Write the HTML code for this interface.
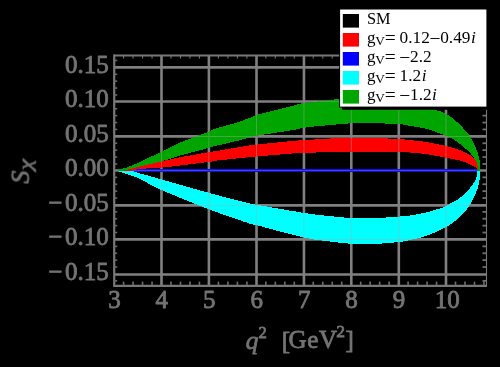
<!DOCTYPE html>
<html><head><meta charset="utf-8"><title>plot</title>
<style>html,body{margin:0;padding:0;background:#000;overflow:hidden}svg{display:block}</style></head>
<body><svg width="500" height="367" viewBox="0 0 500 367">
<defs><filter id="tb" x="-5%" y="-5%" width="110%" height="110%"><feGaussianBlur stdDeviation="0.25"/></filter></defs>
<rect x="0" y="0" width="500" height="367" fill="#000"/>
<g stroke="#808080" stroke-width="2.6"><line x1="161.50" y1="55.5" x2="161.50" y2="285.8"/><line x1="208.90" y1="55.5" x2="208.90" y2="285.8"/><line x1="256.50" y1="55.5" x2="256.50" y2="285.8"/><line x1="303.95" y1="55.5" x2="303.95" y2="285.8"/><line x1="351.30" y1="55.5" x2="351.30" y2="285.8"/><line x1="398.80" y1="55.5" x2="398.80" y2="285.8"/><line x1="446.00" y1="55.5" x2="446.00" y2="285.8"/><line x1="114.2" y1="67.35" x2="486.5" y2="67.35"/><line x1="114.2" y1="101.50" x2="486.5" y2="101.50"/><line x1="114.2" y1="136.40" x2="486.5" y2="136.40"/><line x1="114.2" y1="170.45" x2="486.5" y2="170.45"/><line x1="114.2" y1="205.40" x2="486.5" y2="205.40"/><line x1="114.2" y1="239.40" x2="486.5" y2="239.40"/><line x1="114.2" y1="274.50" x2="486.5" y2="274.50"/></g>
<line x1="121.0" y1="170.45" x2="479.2" y2="170.45" stroke="#0c0cf0" stroke-width="3.1"/>
<line x1="121.0" y1="170.45" x2="479.2" y2="170.45" stroke="#4a4ac4" stroke-width="1"/>
<g shape-rendering="crispEdges">
<path id="bc" d="M119.0,170.3 L119.6,170.3 L120.3,170.3 L121.2,170.3 L122.2,170.3 L123.3,170.3 L124.5,170.3 L125.6,170.4 L126.8,170.4 L128.0,170.4 L129.1,170.5 L130.1,170.6 L131.0,170.7 L131.8,170.8 L132.5,171.0 L133.1,171.1 L133.6,171.2 L134.1,171.4 L134.6,171.6 L135.2,171.8 L135.8,172.0 L136.5,172.3 L137.3,172.5 L138.3,172.9 L139.5,173.2 L140.8,173.6 L142.1,173.9 L143.4,174.3 L144.9,174.7 L146.4,175.2 L148.0,175.6 L149.8,176.1 L151.7,176.7 L153.8,177.2 L156.1,177.9 L158.6,178.6 L161.4,179.4 L164.5,180.3 L167.9,181.3 L171.6,182.3 L175.6,183.5 L179.7,184.7 L184.0,185.9 L188.3,187.1 L192.7,188.3 L197.0,189.6 L201.2,190.7 L205.2,191.9 L209.0,192.9 L212.8,193.9 L216.6,194.9 L220.5,196.0 L224.4,197.0 L228.3,198.0 L232.1,199.0 L235.7,199.9 L239.1,200.8 L242.3,201.6 L245.2,202.3 L247.8,203.0 L250.0,203.5 L251.6,203.9 L252.6,204.2 L253.1,204.3 L253.2,204.3 L253.1,204.3 L252.8,204.2 L252.6,204.2 L252.6,204.1 L252.8,204.1 L253.4,204.2 L254.6,204.4 L256.5,204.7 L259.1,205.2 L262.3,205.7 L266.0,206.4 L270.1,207.1 L274.5,207.9 L279.0,208.7 L283.7,209.5 L288.2,210.3 L292.7,211.0 L296.9,211.7 L300.7,212.4 L304.0,212.9 L306.9,213.3 L309.6,213.7 L312.1,214.1 L314.4,214.4 L316.6,214.7 L318.6,214.9 L320.6,215.1 L322.5,215.3 L324.3,215.5 L326.2,215.7 L328.1,215.9 L330.0,216.1 L331.9,216.3 L333.8,216.5 L335.6,216.7 L337.4,216.9 L339.1,217.0 L340.8,217.2 L342.5,217.3 L344.2,217.5 L345.9,217.6 L347.7,217.7 L349.5,217.8 L351.3,217.9 L353.2,218.0 L355.1,218.0 L357.0,218.1 L359.0,218.1 L361.0,218.1 L363.0,218.2 L365.0,218.2 L367.0,218.1 L369.0,218.1 L371.0,218.1 L373.0,218.0 L375.0,218.0 L377.0,217.9 L379.1,217.8 L381.3,217.7 L383.5,217.6 L385.6,217.5 L387.8,217.4 L389.9,217.2 L392.0,217.1 L393.9,217.0 L395.7,216.8 L397.5,216.7 L399.0,216.6 L400.4,216.5 L401.5,216.4 L402.5,216.4 L403.4,216.3 L404.2,216.2 L405.0,216.2 L405.7,216.1 L406.4,216.0 L407.2,215.9 L408.0,215.8 L408.9,215.7 L410.0,215.5 L411.2,215.3 L412.4,215.1 L413.7,214.9 L415.1,214.7 L416.5,214.4 L417.9,214.2 L419.3,213.9 L420.7,213.6 L422.2,213.3 L423.6,213.0 L425.0,212.7 L426.4,212.4 L427.8,212.0 L429.3,211.6 L430.8,211.2 L432.3,210.8 L433.9,210.3 L435.4,209.9 L436.8,209.4 L438.2,209.0 L439.5,208.5 L440.7,208.1 L441.8,207.8 L442.7,207.5 L443.4,207.3 L443.9,207.1 L444.2,207.0 L444.4,206.9 L444.5,206.9 L444.6,206.9 L444.6,206.8 L444.7,206.7 L444.8,206.6 L445.0,206.5 L445.4,206.2 L446.0,205.9 L446.8,205.5 L447.7,205.0 L448.7,204.5 L449.8,203.9 L451.0,203.2 L452.2,202.6 L453.5,201.9 L454.7,201.2 L455.9,200.5 L457.1,199.8 L458.1,199.1 L459.1,198.5 L460.0,197.9 L460.8,197.2 L461.6,196.6 L462.3,195.9 L463.0,195.3 L463.7,194.7 L464.4,194.0 L465.0,193.4 L465.6,192.8 L466.2,192.2 L466.7,191.6 L467.3,191.0 L467.8,190.5 L468.3,189.9 L468.8,189.4 L469.2,188.9 L469.7,188.4 L470.1,188.0 L470.4,187.5 L470.8,187.0 L471.2,186.6 L471.5,186.1 L471.9,185.7 L472.2,185.2 L472.5,184.7 L472.9,184.3 L473.2,183.9 L473.5,183.4 L473.8,183.0 L474.1,182.5 L474.3,182.1 L474.6,181.7 L474.8,181.3 L475.1,180.8 L475.3,180.4 L475.5,180.0 L475.7,179.6 L475.9,179.1 L476.0,178.7 L476.2,178.3 L476.3,177.9 L476.4,177.5 L476.5,177.0 L476.6,176.6 L476.7,176.2 L476.8,175.8 L476.9,175.4 L477.0,175.0 L477.1,174.6 L477.1,174.2 L477.2,173.7 L477.3,173.3 L477.3,172.9 L477.3,172.4 L477.4,172.0 L477.4,171.6 L477.4,171.3 L477.5,171.0 L477.5,170.7 L477.5,170.5 L480.2,170.5 L480.2,170.8 L480.2,171.1 L480.2,171.4 L480.1,171.9 L480.1,172.3 L480.1,172.8 L480.1,173.3 L480.1,173.8 L480.0,174.4 L480.0,174.9 L479.9,175.5 L479.9,176.0 L479.9,176.5 L479.8,177.1 L479.7,177.7 L479.7,178.3 L479.6,178.9 L479.6,179.5 L479.5,180.2 L479.4,180.8 L479.3,181.4 L479.2,182.1 L479.1,182.7 L479.0,183.3 L478.9,183.9 L478.7,184.5 L478.6,185.1 L478.4,185.7 L478.2,186.3 L478.0,186.9 L477.9,187.6 L477.7,188.2 L477.5,188.8 L477.2,189.4 L477.0,190.0 L476.8,190.6 L476.6,191.2 L476.4,191.8 L476.1,192.4 L475.9,192.9 L475.7,193.5 L475.5,194.1 L475.2,194.7 L474.9,195.3 L474.6,195.9 L474.3,196.6 L474.0,197.3 L473.6,198.0 L473.2,198.8 L472.8,199.6 L472.3,200.5 L471.8,201.4 L471.3,202.3 L470.8,203.2 L470.2,204.1 L469.7,205.1 L469.1,206.0 L468.5,206.9 L467.9,207.8 L467.3,208.6 L466.7,209.4 L466.0,210.3 L465.3,211.1 L464.5,211.9 L463.8,212.7 L463.1,213.6 L462.3,214.3 L461.6,215.1 L460.9,215.8 L460.2,216.4 L459.6,217.1 L459.1,217.6 L458.6,218.1 L458.3,218.5 L457.9,218.8 L457.7,219.1 L457.4,219.3 L457.2,219.5 L457.0,219.7 L456.7,219.9 L456.4,220.1 L456.1,220.3 L455.7,220.6 L455.2,221.0 L454.6,221.4 L454.0,221.9 L453.3,222.4 L452.5,222.9 L451.7,223.4 L450.9,223.9 L450.1,224.5 L449.2,225.0 L448.4,225.6 L447.6,226.1 L446.8,226.5 L446.0,227.0 L445.2,227.4 L444.5,227.8 L443.7,228.2 L442.9,228.6 L442.2,229.0 L441.4,229.4 L440.7,229.7 L439.9,230.1 L439.2,230.4 L438.5,230.8 L437.8,231.1 L437.1,231.4 L436.5,231.7 L435.8,232.0 L435.3,232.2 L434.7,232.5 L434.1,232.7 L433.6,233.0 L433.1,233.2 L432.5,233.4 L431.9,233.7 L431.3,233.9 L430.7,234.1 L430.0,234.4 L429.3,234.7 L428.5,234.9 L427.8,235.2 L427.0,235.5 L426.2,235.8 L425.4,236.0 L424.5,236.3 L423.7,236.6 L422.8,236.9 L422.0,237.1 L421.1,237.4 L420.3,237.6 L419.5,237.8 L418.6,238.1 L417.8,238.3 L416.9,238.5 L416.1,238.7 L415.2,238.9 L414.4,239.1 L413.5,239.3 L412.6,239.4 L411.8,239.6 L410.9,239.8 L410.0,240.0 L409.1,240.2 L408.4,240.4 L407.6,240.5 L406.9,240.7 L406.1,240.9 L405.4,241.0 L404.5,241.2 L403.7,241.4 L402.7,241.5 L401.6,241.7 L400.4,241.8 L399.0,242.0 L397.5,242.2 L395.7,242.3 L393.9,242.5 L392.0,242.7 L389.9,242.9 L387.8,243.1 L385.6,243.3 L383.5,243.4 L381.3,243.6 L379.1,243.7 L377.0,243.8 L375.0,243.9 L373.0,244.0 L371.0,244.0 L369.0,244.0 L367.0,244.1 L365.0,244.1 L363.0,244.1 L361.0,244.0 L359.0,244.0 L357.0,243.9 L355.1,243.9 L353.2,243.8 L351.3,243.7 L349.5,243.6 L347.7,243.5 L345.9,243.3 L344.2,243.2 L342.5,243.0 L340.8,242.8 L339.1,242.6 L337.4,242.4 L335.6,242.2 L333.8,242.0 L331.9,241.8 L330.0,241.5 L328.1,241.3 L326.2,241.0 L324.3,240.8 L322.5,240.6 L320.6,240.4 L318.6,240.1 L316.6,239.8 L314.4,239.5 L312.1,239.1 L309.6,238.7 L306.9,238.1 L304.0,237.5 L300.7,236.7 L296.9,235.8 L292.7,234.8 L288.2,233.6 L283.7,232.4 L279.0,231.2 L274.5,230.0 L270.1,228.8 L266.0,227.7 L262.3,226.7 L259.1,225.9 L256.5,225.2 L254.6,224.7 L253.4,224.5 L252.8,224.4 L252.6,224.4 L252.6,224.4 L252.8,224.6 L253.1,224.7 L253.2,224.7 L253.1,224.7 L252.6,224.5 L251.6,224.2 L250.0,223.7 L247.8,222.9 L245.2,222.1 L242.3,221.1 L239.1,220.0 L235.7,218.8 L232.1,217.6 L228.3,216.3 L224.4,214.9 L220.5,213.5 L216.6,212.1 L212.8,210.7 L209.0,209.3 L205.2,207.8 L201.2,206.3 L197.0,204.6 L192.7,202.9 L188.3,201.2 L184.0,199.4 L179.7,197.7 L175.6,195.9 L171.6,194.3 L167.9,192.7 L164.5,191.2 L161.4,189.9 L158.6,188.7 L156.2,187.5 L153.9,186.4 L151.8,185.3 L150.0,184.4 L148.2,183.4 L146.6,182.5 L145.1,181.7 L143.7,180.9 L142.3,180.2 L140.9,179.5 L139.5,178.8 L138.1,178.2 L136.9,177.6 L135.7,177.1 L134.6,176.7 L133.5,176.3 L132.5,175.9 L131.6,175.6 L130.7,175.3 L129.8,175.0 L129.0,174.8 L128.1,174.5 L127.3,174.2 L126.5,173.9 L125.7,173.7 L124.9,173.4 L124.1,173.2 L123.3,173.0 L122.6,172.8 L122.0,172.6 L121.4,172.4 L120.8,172.3 L120.3,172.1 L119.9,172.0 L119.5,171.9Z" fill="#00ffff"/>
<path id="br" d="M124.0,170.3 L124.3,170.2 L124.7,170.1 L125.2,170.0 L125.8,169.9 L126.3,169.8 L127.0,169.6 L127.6,169.5 L128.3,169.3 L129.0,169.2 L129.7,169.0 L130.3,168.9 L131.0,168.7 L131.6,168.5 L132.2,168.4 L132.7,168.3 L133.2,168.1 L133.8,168.0 L134.3,167.8 L134.9,167.7 L135.6,167.5 L136.4,167.3 L137.3,167.0 L138.3,166.8 L139.5,166.5 L140.9,166.2 L142.4,165.8 L144.1,165.4 L146.0,165.0 L147.9,164.5 L149.9,164.1 L151.9,163.6 L153.9,163.1 L155.9,162.7 L157.8,162.2 L159.7,161.8 L161.4,161.4 L163.0,161.0 L164.4,160.7 L165.8,160.4 L167.1,160.1 L168.4,159.8 L169.7,159.5 L171.0,159.2 L172.4,158.9 L173.8,158.6 L175.4,158.3 L177.1,158.0 L179.0,157.6 L181.1,157.2 L183.5,156.7 L186.1,156.2 L188.9,155.7 L191.7,155.2 L194.5,154.7 L197.4,154.2 L200.1,153.7 L202.7,153.2 L205.0,152.8 L207.1,152.4 L208.8,152.1 L210.1,151.9 L211.1,151.7 L211.8,151.6 L212.3,151.5 L212.6,151.5 L212.8,151.5 L213.0,151.5 L213.3,151.5 L213.6,151.4 L214.1,151.4 L214.9,151.3 L216.0,151.1 L217.4,150.9 L219.0,150.6 L220.8,150.3 L222.7,150.0 L224.7,149.6 L226.9,149.3 L229.0,148.9 L231.1,148.5 L233.3,148.2 L235.3,147.8 L237.2,147.5 L239.0,147.2 L240.7,146.9 L242.4,146.7 L244.0,146.4 L245.6,146.1 L247.2,145.9 L248.8,145.6 L250.3,145.4 L251.7,145.2 L253.0,145.0 L254.3,144.8 L255.5,144.7 L256.6,144.5 L257.5,144.4 L258.1,144.3 L258.6,144.2 L258.9,144.2 L259.2,144.2 L259.4,144.2 L259.7,144.2 L260.1,144.1 L260.7,144.1 L261.5,144.0 L262.6,143.9 L264.0,143.8 L265.9,143.6 L268.2,143.4 L270.8,143.1 L273.7,142.8 L276.8,142.5 L280.0,142.2 L283.1,141.9 L286.2,141.6 L289.1,141.3 L291.8,141.0 L294.1,140.8 L296.0,140.6 L297.5,140.5 L298.5,140.4 L299.3,140.3 L299.8,140.3 L300.2,140.3 L300.4,140.3 L300.7,140.3 L301.0,140.3 L301.4,140.3 L302.0,140.3 L302.9,140.3 L304.1,140.2 L305.6,140.1 L307.4,140.0 L309.4,139.8 L311.6,139.7 L313.9,139.5 L316.2,139.4 L318.6,139.2 L321.0,139.0 L323.4,138.9 L325.7,138.7 L327.9,138.6 L330.0,138.5 L331.9,138.4 L333.8,138.3 L335.6,138.3 L337.4,138.2 L339.1,138.2 L340.8,138.1 L342.5,138.1 L344.2,138.1 L345.9,138.1 L347.7,138.0 L349.5,138.0 L351.3,138.0 L353.2,138.0 L355.1,138.0 L357.1,138.0 L359.0,138.0 L361.0,138.0 L363.0,138.0 L365.0,138.0 L367.0,138.0 L369.0,138.0 L371.0,138.0 L373.0,138.1 L375.0,138.1 L377.0,138.1 L379.1,138.2 L381.2,138.3 L383.4,138.3 L385.5,138.4 L387.6,138.5 L389.7,138.6 L391.7,138.7 L393.6,138.7 L395.5,138.8 L397.2,138.9 L398.7,139.0 L400.1,139.1 L401.2,139.2 L402.3,139.2 L403.2,139.3 L404.0,139.4 L404.8,139.5 L405.6,139.6 L406.3,139.7 L407.1,139.8 L408.0,139.9 L408.9,140.0 L410.0,140.1 L411.2,140.2 L412.4,140.4 L413.7,140.5 L415.1,140.6 L416.5,140.8 L417.9,140.9 L419.3,141.1 L420.8,141.2 L422.2,141.4 L423.6,141.6 L425.0,141.8 L426.4,142.0 L427.8,142.2 L429.3,142.5 L430.8,142.8 L432.3,143.1 L433.9,143.4 L435.4,143.7 L436.8,144.0 L438.2,144.3 L439.5,144.5 L440.7,144.8 L441.8,145.0 L442.7,145.2 L443.4,145.3 L443.9,145.4 L444.2,145.5 L444.4,145.5 L444.5,145.6 L444.6,145.6 L444.6,145.6 L444.7,145.6 L444.8,145.7 L445.0,145.7 L445.4,145.8 L446.0,146.0 L446.8,146.2 L447.7,146.4 L448.7,146.7 L449.8,147.0 L451.0,147.3 L452.2,147.7 L453.5,148.0 L454.7,148.3 L455.9,148.7 L457.1,149.0 L458.1,149.4 L459.1,149.7 L460.0,150.0 L460.8,150.3 L461.6,150.7 L462.3,151.0 L463.0,151.4 L463.7,151.7 L464.4,152.0 L465.0,152.4 L465.6,152.7 L466.2,153.0 L466.7,153.3 L467.3,153.6 L467.8,153.9 L468.3,154.1 L468.8,154.4 L469.2,154.6 L469.7,154.9 L470.1,155.1 L470.4,155.3 L470.8,155.5 L471.2,155.8 L471.5,156.0 L471.9,156.2 L472.2,156.5 L472.5,156.8 L472.9,157.0 L473.2,157.3 L473.5,157.5 L473.8,157.8 L474.0,158.1 L474.3,158.3 L474.6,158.6 L474.8,158.9 L475.0,159.2 L475.3,159.5 L475.5,159.8 L475.7,160.1 L475.9,160.5 L476.1,160.8 L476.3,161.1 L476.5,161.5 L476.6,161.9 L476.8,162.2 L477.0,162.6 L477.1,162.9 L477.2,163.3 L477.4,163.7 L477.5,164.0 L477.6,164.3 L477.7,164.7 L477.8,165.0 L477.9,165.4 L478.0,165.8 L478.1,166.1 L478.1,166.4 L478.2,166.8 L478.2,167.1 L478.3,167.4 L478.4,167.7 L478.4,168.0 L478.4,168.3 L478.5,168.5 L478.5,168.8 L478.5,169.0 L478.5,169.3 L478.6,169.5 L478.6,169.7 L478.6,169.9 L478.6,170.1 L478.6,170.2 L478.6,170.4 L478.6,170.5 L478.0,170.5 L477.9,170.4 L477.9,170.3 L477.8,170.1 L477.7,169.9 L477.6,169.7 L477.5,169.5 L477.4,169.3 L477.3,169.1 L477.1,168.9 L476.9,168.6 L476.7,168.4 L476.5,168.2 L476.2,168.0 L475.9,167.8 L475.6,167.5 L475.3,167.3 L474.9,167.0 L474.6,166.8 L474.2,166.5 L473.8,166.3 L473.3,166.0 L472.9,165.8 L472.5,165.5 L472.0,165.3 L471.5,165.1 L471.0,164.8 L470.5,164.6 L470.0,164.3 L469.5,164.1 L468.9,163.8 L468.4,163.6 L467.8,163.4 L467.3,163.1 L466.7,162.9 L466.1,162.7 L465.6,162.5 L465.1,162.3 L464.6,162.1 L464.1,161.9 L463.7,161.8 L463.2,161.6 L462.8,161.4 L462.3,161.3 L461.8,161.1 L461.2,160.9 L460.6,160.8 L459.9,160.6 L459.1,160.4 L458.2,160.2 L457.2,160.0 L456.1,159.7 L454.9,159.5 L453.6,159.3 L452.4,159.0 L451.1,158.8 L449.9,158.6 L448.7,158.3 L447.7,158.1 L446.8,158.0 L446.0,157.8 L445.4,157.7 L445.0,157.6 L444.8,157.5 L444.7,157.5 L444.6,157.4 L444.6,157.4 L444.5,157.4 L444.4,157.3 L444.2,157.3 L443.9,157.2 L443.4,157.1 L442.7,157.0 L441.8,156.8 L440.7,156.6 L439.5,156.4 L438.2,156.2 L436.8,155.9 L435.4,155.7 L433.9,155.4 L432.3,155.1 L430.8,154.9 L429.3,154.6 L427.8,154.4 L426.4,154.2 L425.0,154.0 L423.6,153.8 L422.2,153.7 L420.8,153.5 L419.3,153.4 L417.9,153.2 L416.5,153.1 L415.1,152.9 L413.7,152.8 L412.4,152.7 L411.2,152.6 L410.0,152.5 L408.9,152.4 L408.0,152.3 L407.1,152.3 L406.3,152.2 L405.6,152.2 L404.8,152.1 L404.0,152.1 L403.2,152.0 L402.3,152.0 L401.2,152.0 L400.1,151.9 L398.7,151.9 L397.2,151.9 L395.5,151.8 L393.6,151.8 L391.7,151.7 L389.7,151.7 L387.6,151.7 L385.5,151.6 L383.4,151.6 L381.2,151.6 L379.1,151.5 L377.0,151.5 L375.0,151.5 L373.0,151.5 L371.0,151.5 L369.0,151.5 L367.0,151.5 L365.0,151.5 L363.0,151.5 L361.0,151.5 L359.0,151.5 L357.1,151.5 L355.1,151.6 L353.2,151.6 L351.3,151.6 L349.5,151.6 L347.7,151.6 L345.9,151.6 L344.2,151.7 L342.5,151.7 L340.8,151.7 L339.1,151.7 L337.4,151.7 L335.6,151.8 L333.8,151.8 L331.9,151.8 L330.0,151.9 L327.9,152.0 L325.7,152.0 L323.4,152.1 L321.0,152.2 L318.6,152.3 L316.2,152.5 L313.8,152.6 L311.5,152.7 L309.3,152.8 L307.3,152.9 L305.6,152.9 L304.0,153.0 L302.8,153.0 L302.0,153.0 L301.5,153.0 L301.2,153.0 L301.0,153.0 L300.8,153.0 L300.6,152.9 L300.3,152.9 L299.8,153.0 L298.9,153.0 L297.7,153.1 L296.0,153.2 L293.7,153.4 L291.0,153.6 L287.8,153.8 L284.4,154.1 L280.7,154.4 L276.9,154.8 L273.1,155.1 L269.3,155.4 L265.7,155.7 L262.3,156.0 L259.2,156.3 L256.6,156.5 L254.4,156.7 L252.5,156.9 L250.8,157.0 L249.3,157.2 L248.0,157.3 L246.8,157.4 L245.6,157.5 L244.5,157.6 L243.3,157.8 L242.0,157.9 L240.6,158.0 L239.0,158.2 L237.2,158.4 L235.3,158.6 L233.3,158.8 L231.1,159.0 L229.0,159.3 L226.9,159.5 L224.7,159.7 L222.7,159.9 L220.8,160.1 L219.0,160.3 L217.4,160.5 L216.0,160.7 L214.9,160.8 L214.1,160.9 L213.6,161.0 L213.3,161.1 L213.0,161.2 L212.8,161.2 L212.6,161.3 L212.3,161.4 L211.8,161.5 L211.1,161.6 L210.1,161.7 L208.8,161.9 L207.1,162.1 L205.0,162.4 L202.7,162.7 L200.1,163.0 L197.4,163.4 L194.5,163.7 L191.7,164.1 L188.9,164.4 L186.1,164.7 L183.5,165.1 L181.1,165.3 L179.0,165.6 L177.1,165.8 L175.4,166.0 L173.8,166.2 L172.4,166.4 L171.0,166.6 L169.7,166.7 L168.4,166.9 L167.1,167.0 L165.8,167.2 L164.4,167.3 L163.0,167.5 L161.4,167.6 L159.7,167.7 L157.8,167.9 L155.9,168.0 L153.9,168.1 L151.9,168.2 L149.9,168.3 L147.9,168.4 L146.0,168.5 L144.1,168.6 L142.4,168.7 L140.9,168.8 L139.5,168.9 L138.3,169.0 L137.3,169.2 L136.4,169.3 L135.6,169.5 L134.9,169.7 L134.3,169.8 L133.8,170.0 L133.2,170.1 L132.7,170.3 L132.2,170.4 L131.6,170.5 L131.0,170.6 L130.3,170.7 L129.7,170.7 L129.0,170.8 L128.3,170.8 L127.6,170.8 L127.0,170.8 L126.3,170.8 L125.8,170.8 L125.2,170.8 L124.7,170.8 L124.3,170.8 L124.0,170.8Z" fill="#ff0000"/>
<path id="bg" d="M119.5,169.3 L119.9,169.2 L120.3,169.1 L120.8,169.0 L121.4,168.9 L122.0,168.7 L122.6,168.6 L123.3,168.4 L124.1,168.2 L124.9,168.0 L125.7,167.7 L126.5,167.5 L127.3,167.2 L128.1,166.9 L129.0,166.6 L129.8,166.3 L130.7,166.0 L131.6,165.6 L132.5,165.2 L133.5,164.8 L134.6,164.4 L135.7,163.9 L136.9,163.4 L138.1,162.8 L139.5,162.2 L141.0,161.5 L142.6,160.7 L144.4,159.9 L146.2,159.0 L148.2,158.1 L150.1,157.2 L152.1,156.2 L154.1,155.3 L156.0,154.3 L157.9,153.4 L159.7,152.5 L161.4,151.7 L163.0,150.9 L164.4,150.2 L165.8,149.5 L167.1,148.8 L168.4,148.1 L169.7,147.5 L171.0,146.8 L172.4,146.1 L173.8,145.4 L175.4,144.7 L177.1,143.9 L179.0,143.1 L181.1,142.2 L183.5,141.3 L186.1,140.2 L188.9,139.2 L191.7,138.1 L194.5,137.0 L197.4,135.9 L200.1,134.9 L202.7,134.0 L205.0,133.1 L207.1,132.3 L208.8,131.6 L210.1,131.1 L211.1,130.6 L211.8,130.3 L212.3,130.1 L212.6,129.9 L212.8,129.8 L213.0,129.6 L213.3,129.5 L213.6,129.3 L214.1,129.1 L214.9,128.9 L216.0,128.5 L217.4,128.1 L219.0,127.6 L220.8,127.1 L222.7,126.5 L224.7,126.0 L226.9,125.4 L229.0,124.8 L231.1,124.2 L233.3,123.6 L235.3,123.0 L237.2,122.4 L239.0,121.8 L240.7,121.2 L242.4,120.6 L244.0,120.0 L245.6,119.4 L247.2,118.8 L248.8,118.2 L250.3,117.6 L251.7,117.0 L253.0,116.5 L254.3,116.0 L255.5,115.5 L256.6,115.1 L257.5,114.8 L258.1,114.6 L258.6,114.4 L258.9,114.3 L259.2,114.2 L259.4,114.1 L259.7,114.1 L260.1,114.0 L260.7,113.8 L261.5,113.6 L262.6,113.4 L264.0,113.0 L265.9,112.5 L268.2,111.9 L270.8,111.2 L273.7,110.5 L276.8,109.7 L280.0,108.9 L283.1,108.1 L286.2,107.4 L289.1,106.6 L291.8,106.0 L294.1,105.4 L296.0,104.9 L297.4,104.5 L298.4,104.3 L299.1,104.1 L299.4,103.9 L299.7,103.8 L299.8,103.8 L300.0,103.7 L300.2,103.6 L300.7,103.6 L301.4,103.5 L302.5,103.3 L304.1,103.1 L306.1,102.8 L308.5,102.5 L311.3,102.2 L314.2,101.8 L317.4,101.4 L320.7,101.0 L324.1,100.6 L327.4,100.2 L330.8,99.8 L334.0,99.5 L337.1,99.2 L340.0,98.9 L342.7,98.7 L345.3,98.4 L347.9,98.2 L350.4,98.1 L352.9,97.9 L355.4,97.7 L357.8,97.6 L360.2,97.5 L362.6,97.4 L365.1,97.3 L367.5,97.3 L370.0,97.3 L372.5,97.3 L375.1,97.4 L377.7,97.4 L380.4,97.5 L383.0,97.7 L385.6,97.8 L388.2,98.0 L390.7,98.1 L393.2,98.3 L395.6,98.5 L397.9,98.8 L400.0,99.0 L402.0,99.2 L404.0,99.5 L405.8,99.8 L407.6,100.1 L409.3,100.4 L410.9,100.7 L412.5,101.0 L414.0,101.4 L415.6,101.7 L417.0,102.1 L418.5,102.6 L420.0,103.0 L421.5,103.5 L422.9,104.0 L424.4,104.6 L425.8,105.3 L427.2,105.9 L428.6,106.6 L429.9,107.2 L431.1,107.8 L432.3,108.4 L433.4,109.0 L434.5,109.5 L435.5,109.9 L436.4,110.2 L437.2,110.5 L437.9,110.7 L438.5,110.9 L439.0,111.1 L439.6,111.2 L440.0,111.3 L440.5,111.4 L441.0,111.6 L441.5,111.7 L442.1,111.9 L442.7,112.2 L443.3,112.5 L444.0,112.8 L444.7,113.2 L445.4,113.5 L446.0,113.9 L446.7,114.3 L447.4,114.7 L448.1,115.1 L448.8,115.6 L449.5,116.0 L450.2,116.5 L450.9,117.0 L451.6,117.5 L452.3,118.0 L452.9,118.6 L453.6,119.1 L454.3,119.7 L455.0,120.2 L455.7,120.8 L456.4,121.5 L457.1,122.1 L457.7,122.7 L458.4,123.3 L459.1,124.0 L459.8,124.7 L460.5,125.4 L461.2,126.1 L462.0,126.9 L462.7,127.6 L463.4,128.4 L464.1,129.2 L464.8,129.9 L465.5,130.7 L466.1,131.4 L466.7,132.1 L467.3,132.8 L467.8,133.5 L468.3,134.1 L468.8,134.7 L469.2,135.3 L469.7,135.9 L470.1,136.5 L470.4,137.1 L470.8,137.7 L471.2,138.3 L471.5,138.8 L471.9,139.4 L472.2,140.0 L472.5,140.6 L472.8,141.2 L473.2,141.8 L473.4,142.3 L473.7,142.9 L474.0,143.5 L474.2,144.1 L474.5,144.6 L474.8,145.2 L475.0,145.8 L475.3,146.4 L475.5,147.0 L475.7,147.6 L476.0,148.2 L476.2,148.9 L476.5,149.5 L476.7,150.1 L477.0,150.8 L477.2,151.4 L477.4,152.0 L477.6,152.7 L477.8,153.3 L478.0,154.0 L478.2,154.6 L478.4,155.2 L478.6,155.9 L478.7,156.5 L478.9,157.1 L479.0,157.8 L479.2,158.4 L479.3,159.1 L479.5,159.7 L479.6,160.3 L479.7,161.0 L479.8,161.6 L479.9,162.3 L480.0,163.0 L480.1,163.7 L480.1,164.5 L480.2,165.3 L480.2,166.1 L480.3,166.9 L480.3,167.6 L480.3,168.4 L480.3,169.0 L480.4,169.6 L480.4,170.1 L480.4,170.5 L478.3,170.5 L478.3,170.2 L478.2,169.8 L478.1,169.4 L478.1,168.9 L478.0,168.4 L477.9,167.8 L477.8,167.2 L477.7,166.7 L477.6,166.1 L477.5,165.6 L477.4,165.1 L477.3,164.6 L477.2,164.2 L477.1,163.8 L476.9,163.4 L476.8,163.1 L476.7,162.7 L476.5,162.4 L476.4,162.1 L476.2,161.7 L476.1,161.4 L475.9,161.0 L475.7,160.7 L475.5,160.3 L475.3,159.9 L475.1,159.5 L474.8,159.1 L474.6,158.7 L474.3,158.3 L474.0,157.9 L473.8,157.4 L473.5,157.0 L473.2,156.6 L472.9,156.1 L472.5,155.7 L472.2,155.3 L471.9,154.9 L471.5,154.5 L471.2,154.1 L470.8,153.7 L470.4,153.3 L470.1,152.9 L469.7,152.5 L469.2,152.0 L468.8,151.6 L468.3,151.1 L467.8,150.7 L467.3,150.2 L466.7,149.7 L466.1,149.1 L465.4,148.6 L464.8,148.0 L464.0,147.4 L463.3,146.8 L462.6,146.2 L461.8,145.6 L461.1,145.0 L460.4,144.4 L459.7,143.9 L459.1,143.4 L458.5,142.9 L457.9,142.5 L457.3,142.0 L456.7,141.6 L456.2,141.2 L455.6,140.8 L455.1,140.4 L454.6,140.0 L454.0,139.6 L453.5,139.3 L452.9,138.9 L452.4,138.6 L451.8,138.3 L451.3,138.0 L450.7,137.7 L450.1,137.5 L449.6,137.2 L449.0,137.0 L448.4,136.8 L447.9,136.6 L447.4,136.4 L446.9,136.2 L446.4,136.0 L446.0,135.8 L445.7,135.6 L445.4,135.5 L445.3,135.4 L445.2,135.4 L445.1,135.3 L445.0,135.3 L444.8,135.2 L444.6,135.1 L444.4,135.0 L444.0,134.9 L443.4,134.7 L442.7,134.4 L441.8,134.1 L440.7,133.7 L439.5,133.3 L438.2,132.8 L436.8,132.3 L435.4,131.8 L433.9,131.2 L432.3,130.7 L430.8,130.2 L429.3,129.7 L427.8,129.3 L426.4,128.9 L425.0,128.6 L423.6,128.2 L422.2,127.9 L420.8,127.6 L419.3,127.4 L417.9,127.1 L416.5,126.9 L415.1,126.6 L413.7,126.4 L412.4,126.2 L411.2,126.0 L410.0,125.8 L408.9,125.6 L408.0,125.4 L407.1,125.3 L406.3,125.1 L405.6,125.0 L404.8,124.8 L404.0,124.7 L403.2,124.6 L402.3,124.4 L401.2,124.3 L400.1,124.2 L398.7,124.1 L397.2,124.0 L395.5,123.9 L393.6,123.8 L391.7,123.7 L389.7,123.6 L387.6,123.5 L385.5,123.5 L383.4,123.4 L381.2,123.3 L379.1,123.3 L377.0,123.2 L375.0,123.2 L373.0,123.2 L370.9,123.1 L368.8,123.1 L366.6,123.1 L364.5,123.1 L362.4,123.1 L360.3,123.2 L358.3,123.2 L356.4,123.2 L354.5,123.2 L352.8,123.3 L351.3,123.3 L349.9,123.3 L348.7,123.4 L347.6,123.5 L346.6,123.5 L345.6,123.6 L344.8,123.7 L344.0,123.8 L343.2,123.9 L342.4,124.0 L341.7,124.0 L340.9,124.1 L340.0,124.2 L339.2,124.3 L338.4,124.3 L337.8,124.4 L337.2,124.4 L336.5,124.4 L335.9,124.5 L335.2,124.5 L334.5,124.6 L333.6,124.7 L332.6,124.8 L331.4,124.9 L330.0,125.0 L328.3,125.2 L326.4,125.3 L324.2,125.6 L321.9,125.8 L319.4,126.0 L316.9,126.3 L314.4,126.5 L312.0,126.8 L309.7,127.0 L307.6,127.3 L305.7,127.5 L304.1,127.7 L302.9,127.9 L302.0,128.0 L301.4,128.2 L301.0,128.3 L300.7,128.4 L300.4,128.5 L300.2,128.6 L299.8,128.8 L299.3,128.9 L298.5,129.1 L297.5,129.3 L296.0,129.6 L294.1,129.9 L291.8,130.3 L289.1,130.7 L286.2,131.1 L283.1,131.6 L280.0,132.1 L276.8,132.6 L273.7,133.0 L270.8,133.5 L268.2,133.9 L265.9,134.2 L264.0,134.5 L262.6,134.7 L261.5,134.9 L260.7,135.0 L260.1,135.0 L259.7,135.1 L259.4,135.1 L259.2,135.1 L258.9,135.2 L258.6,135.2 L258.1,135.3 L257.5,135.5 L256.6,135.7 L255.5,136.0 L254.3,136.3 L253.0,136.6 L251.7,137.0 L250.3,137.4 L248.8,137.8 L247.2,138.2 L245.6,138.7 L244.0,139.1 L242.4,139.5 L240.7,140.0 L239.0,140.4 L237.2,140.8 L235.3,141.3 L233.3,141.8 L231.1,142.3 L229.0,142.8 L226.9,143.3 L224.7,143.8 L222.7,144.2 L220.8,144.7 L219.0,145.1 L217.4,145.5 L216.0,145.8 L214.9,146.1 L214.1,146.3 L213.6,146.4 L213.3,146.5 L213.0,146.6 L212.8,146.6 L212.6,146.7 L212.3,146.8 L211.8,147.0 L211.1,147.2 L210.1,147.4 L208.8,147.8 L207.1,148.3 L205.0,148.8 L202.7,149.5 L200.1,150.1 L197.4,150.9 L194.5,151.6 L191.7,152.4 L188.9,153.2 L186.1,153.9 L183.5,154.6 L181.1,155.3 L179.0,155.9 L177.1,156.5 L175.4,157.0 L173.8,157.5 L172.4,157.9 L171.0,158.4 L169.7,158.8 L168.4,159.3 L167.1,159.7 L165.8,160.1 L164.4,160.5 L163.0,161.0 L161.4,161.4 L159.7,161.8 L157.8,162.3 L155.9,162.8 L153.9,163.2 L151.9,163.7 L149.9,164.2 L147.9,164.6 L146.0,165.0 L144.1,165.4 L142.4,165.8 L140.9,166.2 L139.5,166.5 L138.3,166.8 L137.3,167.0 L136.4,167.3 L135.6,167.5 L134.9,167.6 L134.3,167.8 L133.8,168.0 L133.2,168.1 L132.7,168.3 L132.2,168.4 L131.6,168.5 L131.0,168.7 L130.4,168.9 L129.7,169.0 L129.1,169.2 L128.5,169.4 L127.9,169.5 L127.3,169.7 L126.7,169.8 L126.1,170.0 L125.6,170.1 L125.0,170.2 L124.5,170.3 L124.0,170.4 L123.5,170.5 L123.0,170.5 L122.5,170.6 L122.0,170.6 L121.5,170.6 L121.1,170.6 L120.6,170.6 L120.2,170.6 L119.9,170.6 L119.5,170.6 L119.2,170.6 L119.0,170.6Z" fill="#00a500"/>
</g>
<clipPath id="cb"><use href="#bc"/><use href="#br"/><use href="#bg"/></clipPath>
<g clip-path="url(#cb)"><g stroke="#a8a8a8" stroke-width="1.05" opacity="0.42"><line x1="161.50" y1="55.5" x2="161.50" y2="285.8"/><line x1="208.90" y1="55.5" x2="208.90" y2="285.8"/><line x1="256.50" y1="55.5" x2="256.50" y2="285.8"/><line x1="303.95" y1="55.5" x2="303.95" y2="285.8"/><line x1="351.30" y1="55.5" x2="351.30" y2="285.8"/><line x1="398.80" y1="55.5" x2="398.80" y2="285.8"/><line x1="446.00" y1="55.5" x2="446.00" y2="285.8"/><line x1="114.2" y1="67.35" x2="486.5" y2="67.35"/><line x1="114.2" y1="101.50" x2="486.5" y2="101.50"/><line x1="114.2" y1="136.40" x2="486.5" y2="136.40"/><line x1="114.2" y1="205.40" x2="486.5" y2="205.40"/><line x1="114.2" y1="239.40" x2="486.5" y2="239.40"/><line x1="114.2" y1="274.50" x2="486.5" y2="274.50"/></g></g>
<g stroke="#787878" fill="none"><line x1="114.2" y1="54.4" x2="114.2" y2="286.90000000000003" stroke-width="2.2"/><line x1="114.2" y1="55.5" x2="486.5" y2="55.5" stroke-width="2.2"/><line x1="114.2" y1="285.8" x2="487.0" y2="285.8" stroke-width="2.2"/><line x1="486.5" y1="55.5" x2="486.5" y2="285.8" stroke-width="1.1"/></g>
<g stroke="#747474" stroke-width="1.1"><line x1="123.58" y1="285.8" x2="123.58" y2="281.6" stroke-width="1.6" stroke="#6e6e6e"/><line x1="123.58" y1="55.5" x2="123.58" y2="58.5"/><line x1="133.07" y1="285.8" x2="133.07" y2="281.6" stroke-width="1.6" stroke="#6e6e6e"/><line x1="133.07" y1="55.5" x2="133.07" y2="58.5"/><line x1="142.55" y1="285.8" x2="142.55" y2="281.6" stroke-width="1.6" stroke="#6e6e6e"/><line x1="142.55" y1="55.5" x2="142.55" y2="58.5"/><line x1="152.04" y1="285.8" x2="152.04" y2="281.6" stroke-width="1.6" stroke="#6e6e6e"/><line x1="152.04" y1="55.5" x2="152.04" y2="58.5"/><line x1="171.00" y1="285.8" x2="171.00" y2="281.6" stroke-width="1.6" stroke="#6e6e6e"/><line x1="171.00" y1="55.5" x2="171.00" y2="58.5"/><line x1="180.49" y1="285.8" x2="180.49" y2="281.6" stroke-width="1.6" stroke="#6e6e6e"/><line x1="180.49" y1="55.5" x2="180.49" y2="58.5"/><line x1="189.97" y1="285.8" x2="189.97" y2="281.6" stroke-width="1.6" stroke="#6e6e6e"/><line x1="189.97" y1="55.5" x2="189.97" y2="58.5"/><line x1="199.46" y1="285.8" x2="199.46" y2="281.6" stroke-width="1.6" stroke="#6e6e6e"/><line x1="199.46" y1="55.5" x2="199.46" y2="58.5"/><line x1="218.42" y1="285.8" x2="218.42" y2="281.6" stroke-width="1.6" stroke="#6e6e6e"/><line x1="218.42" y1="55.5" x2="218.42" y2="58.5"/><line x1="227.91" y1="285.8" x2="227.91" y2="281.6" stroke-width="1.6" stroke="#6e6e6e"/><line x1="227.91" y1="55.5" x2="227.91" y2="58.5"/><line x1="237.39" y1="285.8" x2="237.39" y2="281.6" stroke-width="1.6" stroke="#6e6e6e"/><line x1="237.39" y1="55.5" x2="237.39" y2="58.5"/><line x1="246.88" y1="285.8" x2="246.88" y2="281.6" stroke-width="1.6" stroke="#6e6e6e"/><line x1="246.88" y1="55.5" x2="246.88" y2="58.5"/><line x1="265.84" y1="285.8" x2="265.84" y2="281.6" stroke-width="1.6" stroke="#6e6e6e"/><line x1="265.84" y1="55.5" x2="265.84" y2="58.5"/><line x1="275.33" y1="285.8" x2="275.33" y2="281.6" stroke-width="1.6" stroke="#6e6e6e"/><line x1="275.33" y1="55.5" x2="275.33" y2="58.5"/><line x1="284.81" y1="285.8" x2="284.81" y2="281.6" stroke-width="1.6" stroke="#6e6e6e"/><line x1="284.81" y1="55.5" x2="284.81" y2="58.5"/><line x1="294.30" y1="285.8" x2="294.30" y2="281.6" stroke-width="1.6" stroke="#6e6e6e"/><line x1="294.30" y1="55.5" x2="294.30" y2="58.5"/><line x1="313.26" y1="285.8" x2="313.26" y2="281.6" stroke-width="1.6" stroke="#6e6e6e"/><line x1="313.26" y1="55.5" x2="313.26" y2="58.5"/><line x1="322.75" y1="285.8" x2="322.75" y2="281.6" stroke-width="1.6" stroke="#6e6e6e"/><line x1="322.75" y1="55.5" x2="322.75" y2="58.5"/><line x1="332.23" y1="285.8" x2="332.23" y2="281.6" stroke-width="1.6" stroke="#6e6e6e"/><line x1="332.23" y1="55.5" x2="332.23" y2="58.5"/><line x1="341.72" y1="285.8" x2="341.72" y2="281.6" stroke-width="1.6" stroke="#6e6e6e"/><line x1="341.72" y1="55.5" x2="341.72" y2="58.5"/><line x1="360.68" y1="285.8" x2="360.68" y2="281.6" stroke-width="1.6" stroke="#6e6e6e"/><line x1="360.68" y1="55.5" x2="360.68" y2="58.5"/><line x1="370.17" y1="285.8" x2="370.17" y2="281.6" stroke-width="1.6" stroke="#6e6e6e"/><line x1="370.17" y1="55.5" x2="370.17" y2="58.5"/><line x1="379.65" y1="285.8" x2="379.65" y2="281.6" stroke-width="1.6" stroke="#6e6e6e"/><line x1="379.65" y1="55.5" x2="379.65" y2="58.5"/><line x1="389.14" y1="285.8" x2="389.14" y2="281.6" stroke-width="1.6" stroke="#6e6e6e"/><line x1="389.14" y1="55.5" x2="389.14" y2="58.5"/><line x1="408.10" y1="285.8" x2="408.10" y2="281.6" stroke-width="1.6" stroke="#6e6e6e"/><line x1="408.10" y1="55.5" x2="408.10" y2="58.5"/><line x1="417.59" y1="285.8" x2="417.59" y2="281.6" stroke-width="1.6" stroke="#6e6e6e"/><line x1="417.59" y1="55.5" x2="417.59" y2="58.5"/><line x1="427.07" y1="285.8" x2="427.07" y2="281.6" stroke-width="1.6" stroke="#6e6e6e"/><line x1="427.07" y1="55.5" x2="427.07" y2="58.5"/><line x1="436.56" y1="285.8" x2="436.56" y2="281.6" stroke-width="1.6" stroke="#6e6e6e"/><line x1="436.56" y1="55.5" x2="436.56" y2="58.5"/><line x1="455.52" y1="285.8" x2="455.52" y2="281.6" stroke-width="1.6" stroke="#6e6e6e"/><line x1="455.52" y1="55.5" x2="455.52" y2="58.5"/><line x1="465.01" y1="285.8" x2="465.01" y2="281.6" stroke-width="1.6" stroke="#6e6e6e"/><line x1="465.01" y1="55.5" x2="465.01" y2="58.5"/><line x1="474.49" y1="285.8" x2="474.49" y2="281.6" stroke-width="1.6" stroke="#6e6e6e"/><line x1="474.49" y1="55.5" x2="474.49" y2="58.5"/><line x1="483.98" y1="285.8" x2="483.98" y2="281.6" stroke-width="1.6" stroke="#6e6e6e"/><line x1="483.98" y1="55.5" x2="483.98" y2="58.5"/><line x1="114.2" y1="280.85" x2="117.2" y2="280.85" stroke="#6c6c6c" stroke-width="1.6"/><line x1="486.5" y1="280.85" x2="482.5" y2="280.85" stroke="#707070" stroke-width="1.8"/><line x1="114.2" y1="267.05" x2="117.2" y2="267.05" stroke="#6c6c6c" stroke-width="1.6"/><line x1="486.5" y1="267.05" x2="482.5" y2="267.05" stroke="#707070" stroke-width="1.8"/><line x1="114.2" y1="260.15" x2="117.2" y2="260.15" stroke="#6c6c6c" stroke-width="1.6"/><line x1="486.5" y1="260.15" x2="482.5" y2="260.15" stroke="#707070" stroke-width="1.8"/><line x1="114.2" y1="253.25" x2="117.2" y2="253.25" stroke="#6c6c6c" stroke-width="1.6"/><line x1="486.5" y1="253.25" x2="482.5" y2="253.25" stroke="#707070" stroke-width="1.8"/><line x1="114.2" y1="246.35" x2="117.2" y2="246.35" stroke="#6c6c6c" stroke-width="1.6"/><line x1="486.5" y1="246.35" x2="482.5" y2="246.35" stroke="#707070" stroke-width="1.8"/><line x1="114.2" y1="232.55" x2="117.2" y2="232.55" stroke="#6c6c6c" stroke-width="1.6"/><line x1="486.5" y1="232.55" x2="482.5" y2="232.55" stroke="#707070" stroke-width="1.8"/><line x1="114.2" y1="225.65" x2="117.2" y2="225.65" stroke="#6c6c6c" stroke-width="1.6"/><line x1="486.5" y1="225.65" x2="482.5" y2="225.65" stroke="#707070" stroke-width="1.8"/><line x1="114.2" y1="218.75" x2="117.2" y2="218.75" stroke="#6c6c6c" stroke-width="1.6"/><line x1="486.5" y1="218.75" x2="482.5" y2="218.75" stroke="#707070" stroke-width="1.8"/><line x1="114.2" y1="211.85" x2="117.2" y2="211.85" stroke="#6c6c6c" stroke-width="1.6"/><line x1="486.5" y1="211.85" x2="482.5" y2="211.85" stroke="#707070" stroke-width="1.8"/><line x1="114.2" y1="198.05" x2="117.2" y2="198.05" stroke="#6c6c6c" stroke-width="1.6"/><line x1="486.5" y1="198.05" x2="482.5" y2="198.05" stroke="#707070" stroke-width="1.8"/><line x1="114.2" y1="191.15" x2="117.2" y2="191.15" stroke="#6c6c6c" stroke-width="1.6"/><line x1="486.5" y1="191.15" x2="482.5" y2="191.15" stroke="#707070" stroke-width="1.8"/><line x1="114.2" y1="184.25" x2="117.2" y2="184.25" stroke="#6c6c6c" stroke-width="1.6"/><line x1="486.5" y1="184.25" x2="482.5" y2="184.25" stroke="#707070" stroke-width="1.8"/><line x1="114.2" y1="177.35" x2="117.2" y2="177.35" stroke="#6c6c6c" stroke-width="1.6"/><line x1="486.5" y1="177.35" x2="482.5" y2="177.35" stroke="#707070" stroke-width="1.8"/><line x1="114.2" y1="163.95" x2="117.2" y2="163.95" stroke="#6c6c6c" stroke-width="1.6"/><line x1="486.5" y1="163.95" x2="482.5" y2="163.95" stroke="#707070" stroke-width="1.8"/><line x1="114.2" y1="157.05" x2="117.2" y2="157.05" stroke="#6c6c6c" stroke-width="1.6"/><line x1="486.5" y1="157.05" x2="482.5" y2="157.05" stroke="#707070" stroke-width="1.8"/><line x1="114.2" y1="150.15" x2="117.2" y2="150.15" stroke="#6c6c6c" stroke-width="1.6"/><line x1="486.5" y1="150.15" x2="482.5" y2="150.15" stroke="#707070" stroke-width="1.8"/><line x1="114.2" y1="143.25" x2="117.2" y2="143.25" stroke="#6c6c6c" stroke-width="1.6"/><line x1="486.5" y1="143.25" x2="482.5" y2="143.25" stroke="#707070" stroke-width="1.8"/><line x1="114.2" y1="129.45" x2="117.2" y2="129.45" stroke="#6c6c6c" stroke-width="1.6"/><line x1="486.5" y1="129.45" x2="482.5" y2="129.45" stroke="#707070" stroke-width="1.8"/><line x1="114.2" y1="122.55" x2="117.2" y2="122.55" stroke="#6c6c6c" stroke-width="1.6"/><line x1="486.5" y1="122.55" x2="482.5" y2="122.55" stroke="#707070" stroke-width="1.8"/><line x1="114.2" y1="115.65" x2="117.2" y2="115.65" stroke="#6c6c6c" stroke-width="1.6"/><line x1="486.5" y1="115.65" x2="482.5" y2="115.65" stroke="#707070" stroke-width="1.8"/><line x1="114.2" y1="108.75" x2="117.2" y2="108.75" stroke="#6c6c6c" stroke-width="1.6"/><line x1="486.5" y1="108.75" x2="482.5" y2="108.75" stroke="#707070" stroke-width="1.8"/><line x1="114.2" y1="94.95" x2="117.2" y2="94.95" stroke="#6c6c6c" stroke-width="1.6"/><line x1="486.5" y1="94.95" x2="482.5" y2="94.95" stroke="#707070" stroke-width="1.8"/><line x1="114.2" y1="88.05" x2="117.2" y2="88.05" stroke="#6c6c6c" stroke-width="1.6"/><line x1="486.5" y1="88.05" x2="482.5" y2="88.05" stroke="#707070" stroke-width="1.8"/><line x1="114.2" y1="81.15" x2="117.2" y2="81.15" stroke="#6c6c6c" stroke-width="1.6"/><line x1="486.5" y1="81.15" x2="482.5" y2="81.15" stroke="#707070" stroke-width="1.8"/><line x1="114.2" y1="74.25" x2="117.2" y2="74.25" stroke="#6c6c6c" stroke-width="1.6"/><line x1="486.5" y1="74.25" x2="482.5" y2="74.25" stroke="#707070" stroke-width="1.8"/><line x1="114.2" y1="60.45" x2="117.2" y2="60.45" stroke="#6c6c6c" stroke-width="1.6"/><line x1="486.5" y1="60.45" x2="482.5" y2="60.45" stroke="#707070" stroke-width="1.8"/></g>
<g filter="url(#tb)" font-family="Liberation Serif, serif" font-size="25.0" fill="#737373" stroke="#737373" stroke-width="0.85" stroke-linejoin="round"><text x="108.8" y="73.10" text-anchor="end">0.15</text><text x="108.8" y="107.25" text-anchor="end">0.10</text><text x="108.8" y="142.15" text-anchor="end">0.05</text><text x="108.8" y="176.20" text-anchor="end">0.00</text><text x="108.8" y="211.15" text-anchor="end">0.05</text><text x="62.4" y="211.15" text-anchor="end">−</text><text x="108.8" y="245.15" text-anchor="end">0.10</text><text x="62.4" y="245.15" text-anchor="end">−</text><text x="108.8" y="280.25" text-anchor="end">0.15</text><text x="62.4" y="280.25" text-anchor="end">−</text><text x="114.40" y="308.0" text-anchor="middle">3</text><text x="161.80" y="308.0" text-anchor="middle">4</text><text x="209.20" y="308.0" text-anchor="middle">5</text><text x="256.80" y="308.0" text-anchor="middle">6</text><text x="304.25" y="308.0" text-anchor="middle">7</text><text x="351.60" y="308.0" text-anchor="middle">8</text><text x="399.10" y="308.0" text-anchor="middle">9</text><text x="447.30" y="308.0" text-anchor="middle">10</text></g>
<g filter="url(#tb)" font-family="Liberation Serif, serif" fill="#737373" stroke="#737373" stroke-width="0.8"><text x="245.7" y="349.0" font-size="25.2" font-style="italic">q</text><text x="258.6" y="337.8" font-size="16.5">2</text><text x="281.8" y="348.6" font-size="25.0">[</text><text x="288.6" y="348.4" font-size="25.0" letter-spacing="0.6">GeV</text><text x="336.2" y="337.4" font-size="17.5">2</text><text x="345.6" y="348.4" font-size="25.0">]</text><g transform="translate(28.8,183.6) rotate(-90)"><text x="0" y="0" font-size="26" font-style="italic">S</text><text transform="translate(13.6,3.2) scale(1.3,1)" x="0" y="0" font-size="19.5" font-style="italic" stroke-width="0.6">&#967;</text></g></g>
<rect x="339.2" y="0" width="161" height="107.6" fill="#000"/>
<rect x="342.1" y="100" width="158" height="9.8" fill="#000"/>
<rect x="340.1" y="9.5" width="146.3" height="97.1" fill="#fff"/>
<rect x="342.8" y="14.0" width="16.2" height="13.6" fill="#000000"/>
<rect x="342.8" y="33.0" width="16.2" height="13.6" fill="#ff0000"/>
<rect x="342.8" y="52.0" width="16.2" height="13.6" fill="#0000ff"/>
<rect x="342.8" y="71.0" width="16.2" height="13.6" fill="#00ffff"/>
<rect x="342.8" y="90.0" width="16.2" height="13.6" fill="#00a500"/>
<g filter="url(#tb)" font-family="Liberation Serif, serif" font-size="17.25" fill="#000"><text x="366.9" y="23.9" font-size="16.3">SM</text><text x="367" y="42.75"><tspan font-size="17">g</tspan><tspan font-size="13.3" dy="1.9" dx="-0.2">V</tspan><tspan dy="-0.6" dx="-0.2" font-size="19.5">=</tspan><tspan dy="-1.3" dx="-0.4"> 0.12<tspan dx="-0.3" dy="2.0" font-size="19.5">−</tspan><tspan dx="-0.3" dy="-2.0">0.49</tspan><tspan font-style="italic" dx="0.5">i</tspan></tspan></text><text x="367" y="61.75"><tspan font-size="17">g</tspan><tspan font-size="13.3" dy="1.9" dx="-0.2">V</tspan><tspan dy="-0.6" dx="-0.2" font-size="19.5">=</tspan><tspan dy="-1.3" dx="-0.4"> <tspan dx="-0.3" dy="2.0" font-size="19.5">−</tspan><tspan dx="-0.3" dy="-2.0">2.2</tspan></tspan></text><text x="367" y="80.75"><tspan font-size="17">g</tspan><tspan font-size="13.3" dy="1.9" dx="-0.2">V</tspan><tspan dy="-0.6" dx="-0.2" font-size="19.5">=</tspan><tspan dy="-1.3" dx="-0.4"> 1.2<tspan font-style="italic" dx="0.5">i</tspan></tspan></text><text x="367" y="99.75"><tspan font-size="17">g</tspan><tspan font-size="13.3" dy="1.9" dx="-0.2">V</tspan><tspan dy="-0.6" dx="-0.2" font-size="19.5">=</tspan><tspan dy="-1.3" dx="-0.4"> <tspan dx="-0.3" dy="2.0" font-size="19.5">−</tspan><tspan dx="-0.3" dy="-2.0">1.2</tspan><tspan font-style="italic" dx="0.5">i</tspan></tspan></text></g>
</svg></body></html>
